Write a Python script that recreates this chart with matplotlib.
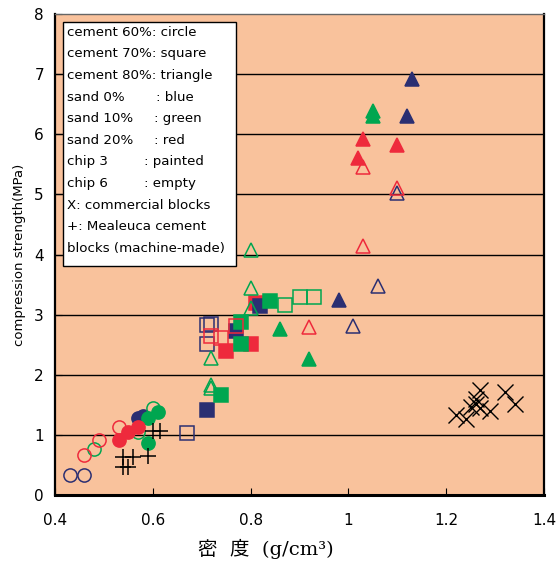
import matplotlib
matplotlib.use("Agg")
import matplotlib.pyplot as plt
from matplotlib.patches import Rectangle

# colours of the three sand contents
BLUE = '#2b2f72'
GREEN = '#00a650'
RED = '#ee2a3c'
BG = '#f9c29c'

# circles: cement 60%
circ_blue_fill_x = [0.57, 0.58]
circ_blue_fill_y = [1.28, 1.32]
circ_blue_open_x = [0.43, 0.46]
circ_blue_open_y = [0.33, 0.33]
circ_green_fill_x = [0.59, 0.61, 0.59]
circ_green_fill_y = [1.28, 1.38, 0.86]
circ_green_open_x = [0.48, 0.57, 0.60]
circ_green_open_y = [0.76, 1.04, 1.44]
circ_red_fill_x = [0.53, 0.55, 0.57]
circ_red_fill_y = [0.91, 1.04, 1.13]
circ_red_open_x = [0.46, 0.49, 0.53]
circ_red_open_y = [0.66, 0.91, 1.13]

# squares: cement 70%
sq_blue_fill_x = [0.71, 0.77, 0.82]
sq_blue_fill_y = [1.41, 2.73, 3.14]
sq_blue_open_x = [0.67, 0.71, 0.72, 0.71]
sq_blue_open_y = [1.03, 2.83, 2.85, 2.52]
sq_green_fill_x = [0.74, 0.78, 0.78, 0.84]
sq_green_fill_y = [1.66, 2.52, 2.87, 3.23]
sq_green_open_x = [0.87, 0.90, 0.93]
sq_green_open_y = [3.16, 3.29, 3.30]
sq_red_fill_x = [0.75, 0.80, 0.81]
sq_red_fill_y = [2.40, 2.51, 3.19]
sq_red_open_x = [0.72, 0.74, 0.77]
sq_red_open_y = [2.65, 2.62, 2.81]

# triangles: cement 80%
tri_blue_fill_x = [0.98, 1.12, 1.13]
tri_blue_fill_y = [3.24, 6.30, 6.92]
tri_blue_open_x = [1.01, 1.06, 1.10]
tri_blue_open_y = [2.81, 3.48, 5.03]
tri_green_fill_x = [0.86, 0.92, 1.05, 1.05]
tri_green_fill_y = [2.76, 2.27, 6.30, 6.38]
tri_green_open_x = [0.72, 0.72, 0.72, 0.80, 0.80, 0.80]
tri_green_open_y = [1.78, 1.83, 2.28, 3.11, 3.44, 4.08]
tri_red_fill_x = [1.02, 1.03, 1.10]
tri_red_fill_y = [5.60, 5.92, 5.82]
tri_red_open_x = [0.92, 1.03, 1.03, 1.10]
tri_red_open_y = [2.80, 4.15, 5.45, 5.10]

# Mealeuca machine-made blocks (+)
plus_x = [0.54, 0.55, 0.54, 0.56, 0.59, 0.60, 0.615]
plus_y = [0.47, 0.47, 0.64, 0.64, 0.65, 1.07, 1.07]

# commercial blocks (X)
cross_x = [1.22, 1.24, 1.25, 1.26, 1.26, 1.27, 1.27, 1.29, 1.32, 1.34]
cross_y = [1.33, 1.26, 1.47, 1.52, 1.60, 1.75, 1.44, 1.39, 1.72, 1.51]

legend_lines = [
    ("cement 60%: circle", None),
    ("cement 70%: square", None),
    ("cement 80%: triangle", None),
    ("sand 0%", ": blue"),
    ("sand 10%", ": green"),
    ("sand 20%", ": red"),
    ("chip 3", ": painted"),
    ("chip 6", ": empty"),
    ("X: commercial blocks", None),
    ("+: Mealeuca cement", None),
    ("blocks (machine-made)", None),
]

fig = plt.figure(figsize=(5.59, 5.66), dpi=100)
ax = fig.add_axes([0.0984, 0.1254, 0.8748, 0.8498])
ax.set_facecolor(BG)

ms = 9.5
series = [
    (circ_blue_fill_x, circ_blue_fill_y, 'o', BLUE, True),
    (circ_blue_open_x, circ_blue_open_y, 'o', BLUE, False),
    (circ_green_open_x, circ_green_open_y, 'o', GREEN, False),
    (circ_red_open_x, circ_red_open_y, 'o', RED, False),
    (circ_green_fill_x, circ_green_fill_y, 'o', GREEN, True),
    (circ_red_fill_x, circ_red_fill_y, 'o', RED, True),
    (sq_blue_open_x, sq_blue_open_y, 's', BLUE, False),
    (sq_green_open_x, sq_green_open_y, 's', GREEN, False),
    (sq_red_fill_x, sq_red_fill_y, 's', RED, True),
    (sq_blue_fill_x, sq_blue_fill_y, 's', BLUE, True),
    (sq_green_fill_x, sq_green_fill_y, 's', GREEN, True),
    (sq_red_open_x, sq_red_open_y, 's', RED, False),
    (tri_green_open_x, tri_green_open_y, '^', GREEN, False),
    (tri_blue_open_x, tri_blue_open_y, '^', BLUE, False),
    (tri_red_open_x, tri_red_open_y, '^', RED, False),
    (tri_blue_fill_x, tri_blue_fill_y, '^', BLUE, True),
    (tri_green_fill_x, tri_green_fill_y, '^', GREEN, True),
    (tri_red_fill_x, tri_red_fill_y, '^', RED, True),
]
for xs, ys, mk, col, filled in series:
    size = ms if mk != '^' else ms + 0.5
    ax.plot(xs, ys, linestyle='none', marker=mk, markersize=size,
            markerfacecolor=col if filled else 'none',
            markeredgecolor=col, markeredgewidth=1.1, zorder=3)

ax.plot(plus_x, plus_y, linestyle='none', marker='+', markersize=11,
        color='black', markeredgewidth=1.1, zorder=3)
ax.plot(cross_x, cross_y, linestyle='none', marker='x', markersize=11,
        color='black', markeredgewidth=1.0, zorder=3)

ax.set_xlim(0.4, 1.4)
ax.set_ylim(0, 8)
ax.set_xticks([0.4, 0.6, 0.8, 1.0, 1.2, 1.4])
ax.set_xticklabels(['0.4', '0.6', '0.8', '1', '1.2', '1.4'])
ax.set_yticks(range(0, 9))
ax.tick_params(direction='in', labelsize=11, length=5)
ax.tick_params(axis='x', pad=13)
ax.tick_params(axis='y', pad=8)
for y in range(1, 8):
    ax.axhline(y, color='black', linewidth=1.0, zorder=1)

ax.spines['bottom'].set_linewidth(2.2)
ax.spines['left'].set_linewidth(1.6)
ax.spines['right'].set_linewidth(1.6)
ax.spines['top'].set_linewidth(1.0)
ax.spines['top'].set_color('#666666')

ax.set_ylabel('compression strength(MPa)', fontsize=9.5, labelpad=6)
ax.set_xlabel('密  度  (g/cm³)', fontsize=14,
              family=['DejaVu Serif', 'Noto Sans CJK JP'])
ax.xaxis.set_label_coords((266 - 55) / 489, -(549 - 495) / 481)
ax.xaxis.label.set_va('center')

# legend box drawn as text lines
ax.add_patch(Rectangle((0.0164, 0.4755), 0.354, 0.507, transform=ax.transAxes,
                       facecolor='white', edgecolor='black', linewidth=1.0, zorder=4))
x0 = 0.0245
x_colon = {"sand 0%": 0.2065, "sand 10%": 0.2025, "sand 20%": 0.2025,
           "chip 3": 0.182, "chip 6": 0.182}
for i, (left, right) in enumerate(legend_lines):
    ypix = 32.3 + 21.6 * i
    yax = (495 - ypix) / 481
    ax.text(x0, yax, left, transform=ax.transAxes, fontsize=9.6,
            va='center', ha='left', zorder=5)
    if right is not None:
        ax.text(x_colon[left], yax, right, transform=ax.transAxes, fontsize=9.6,
                va='center', ha='left', zorder=5)

fig.savefig('out.png', dpi=100)
